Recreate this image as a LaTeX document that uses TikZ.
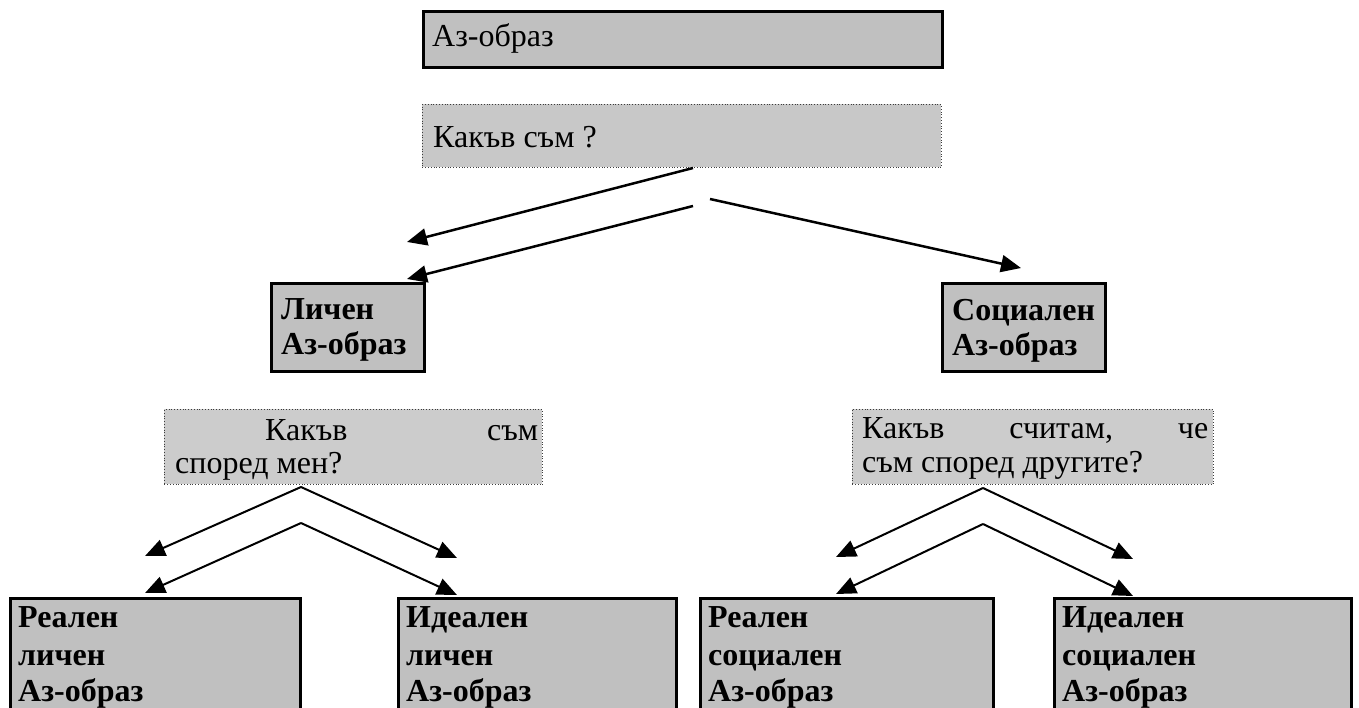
\documentclass[tikz,border=0pt]{standalone}
\usepackage{fontspec}
\setmainfont{Liberation Serif}
\usetikzlibrary{arrows.meta}
\definecolor{boxgray}{RGB}{192,192,192}
\definecolor{qgray}{RGB}{200,200,200}
\definecolor{qgrayb}{RGB}{204,204,204}
\definecolor{dotgray}{RGB}{60,60,60}
\begin{document}
\begin{tikzpicture}[x=1pt,y=-1pt,
  solidbox/.style={draw=black, line width=2.5pt, fill=boxgray, anchor=north west, inner sep=0pt},
  qbox/.style={draw=dotgray, line width=0.8pt, dotted, fill=qgray, anchor=north west, inner sep=0pt},
  txt/.style={anchor=base west, inner sep=0pt, font=\fontsize{32}{38}\selectfont},
  btxt/.style={txt, font=\fontsize{32}{38}\selectfont\bfseries},
  arr/.style={line width=2.5pt, -{Triangle[length=20pt,width=17pt]}},
  arrthin/.style={line width=2pt, -{Triangle[length=20pt,width=17pt]}}
]
\useasboundingbox (0,0) rectangle (1359,707);
\clip (0,0) rectangle (1359,707);

% boxes
\node[solidbox, minimum width=519pt, minimum height=56pt] (top) at (422,10) {};
\node[qbox, minimum width=519pt, minimum height=63pt] (q1) at (422,104) {};
\node[solidbox, minimum width=153pt, minimum height=88pt] (lichen) at (270,282) {};
\node[solidbox, minimum width=163pt, minimum height=88pt] (social) at (941,282) {};
\node[qbox, fill=qgrayb, minimum width=378pt, minimum height=75pt] (q2) at (164,409) {};
\node[qbox, fill=qgrayb, minimum width=361pt, minimum height=75pt] (q3) at (852,409) {};
\node[solidbox, minimum width=290pt, minimum height=140pt] (rl) at (9,597) {};
\node[solidbox, minimum width=278pt, minimum height=140pt] (il) at (397,597) {};
\node[solidbox, minimum width=293pt, minimum height=140pt] (rs) at (699,597) {};
\node[solidbox, minimum width=297pt, minimum height=140pt] (is) at (1053,597) {};

% texts
\node[txt] (ttop) at (432,46) {Аз-образ};
\node[txt] (tq1) at (433,147) {Какъв съм ?};
\node[btxt] (tl1) at (281,319) {Личен};
\node[btxt] (tl2) at (281,354) {Аз-образ};
\node[btxt] (ts1) at (952,320) {Социален};
\node[btxt] (ts2) at (952,355) {Аз-образ};
\node[txt] (tq2a) at (175,440) {\makebox[363pt][l]{\hspace{90pt}Какъв\hfill съм}};
\node[txt] (tq2b) at (175,473) {според мен?};
\node[txt] (tq3a) at (862,438) {\makebox[346pt][l]{Какъв\hfill считам,\hfill че}};
\node[txt] (tq3b) at (862,472) {съм според другите?};
\node[btxt] (trl1) at (18,627) {Реален};
\node[btxt] (trl2) at (18,665) {личен};
\node[btxt] (trl3) at (18,701) {Аз-образ};
\node[btxt] (til1) at (406,627) {Идеален};
\node[btxt] (til2) at (406,665) {личен};
\node[btxt] (til3) at (406,701) {Аз-образ};
\node[btxt] (trs1) at (708,627) {Реален};
\node[btxt] (trs2) at (708,665) {социален};
\node[btxt] (trs3) at (708,701) {Аз-образ};
\node[btxt] (tis1) at (1062,627) {Идеален};
\node[btxt] (tis2) at (1062,665) {социален};
\node[btxt] (tis3) at (1062,701) {Аз-образ};

% arrow coordinates
\coordinate (a1s) at (693,168);
\coordinate (a1e) at (407,242);
\coordinate (a2s) at (693,206);
\coordinate (a2e) at (407,279);
\coordinate (a3s) at (710,199);
\coordinate (a3e) at (1021,268);

\coordinate (b1s) at (301,487);
\coordinate (b1e) at (145,556);
\coordinate (b2s) at (301,523);
\coordinate (b2e) at (145,593);
\coordinate (b3e) at (457,558);
\coordinate (b4e) at (457,595);

\coordinate (c1s) at (983,488);
\coordinate (c1e) at (836,557);
\coordinate (c2s) at (983,524);
\coordinate (c2e) at (836,594);
\coordinate (c3e) at (1133,559);
\coordinate (c4e) at (1133,596);

\draw[arr] (a1s) -- (a1e);
\draw[arr] (a2s) -- (a2e);
\draw[arr] (a3s) -- (a3e);

\draw[arrthin] (b1s) -- (b1e);
\draw[arrthin] (b2s) -- (b2e);
\draw[arrthin] (b1s) -- (b3e);
\draw[arrthin] (b2s) -- (b4e);

\draw[arrthin] (c1s) -- (c1e);
\draw[arrthin] (c2s) -- (c2e);
\draw[arrthin] (c1s) -- (c3e);
\draw[arrthin] (c2s) -- (c4e);
\end{tikzpicture}
\end{document}
